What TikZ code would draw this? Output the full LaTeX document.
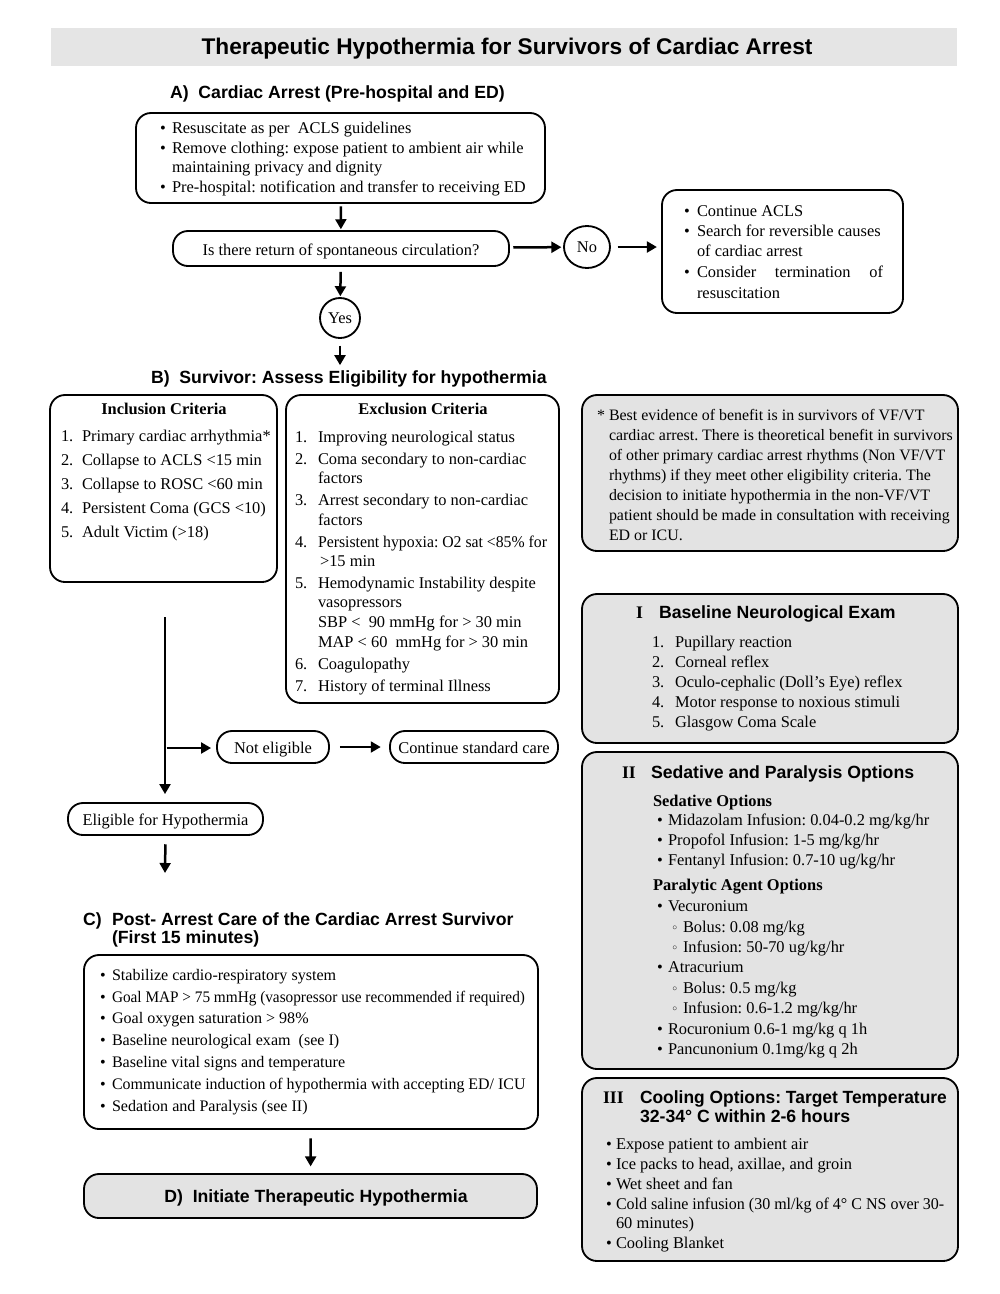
\documentclass[tikz,border=0pt]{standalone}
\usepackage{fontspec}
\setmainfont{Liberation Serif}
\setsansfont{Liberation Sans}
\newfontfamily\symf{DejaVu Sans}
\usetikzlibrary{arrows.meta,fit,shapes.geometric}
\frenchspacing
\newcommand\bodyf{\fontsize{9.85}{12}\selectfont}
\newcommand\footf{\fontsize{9.55}{12}\selectfont}
\newcommand\cf{\fontsize{9.65}{12}\selectfont}
\newcommand\headf{\fontsize{10.6}{12.5}\selectfont\sffamily\bfseries}
\newcommand\titlef{\fontsize{13.6}{16}\selectfont\sffamily\bfseries}
\newcommand\sbul{{\symf\fontsize{7.5}{8}\selectfont ◦}}
\newcommand\Ix[6]{\node[txt,anchor=base west] (#1m) at (#2,#4) {#5};\node[txt,anchor=base west] (#1) at (#3,#4) {#6};}
\newcommand\Lx[4]{\node[txt,anchor=base west] (#1) at (#2,#3) {#4};}
\begin{document}
\begin{tikzpicture}[x=0.6pt,y=-0.6pt,
  box/.style={draw, line width=1.1pt, rounded corners=9pt, inner sep=0pt},
  gbox/.style={box, fill=black!11},
  txt/.style={inner sep=0pt, outer sep=0pt, font=\bodyf},
  hd/.style={inner sep=0pt, outer sep=0pt, font=\headf},
  rn/.style={inner sep=0pt, outer sep=0pt, font=\fontsize{10.6}{12}\selectfont\bfseries},
  circ/.style={draw, line width=1.1pt, inner sep=0pt, font=\bodyf},
  arr/.style={line width=1.5pt, -{Triangle[length=6pt,width=6.5pt]}},
]
\useasboundingbox (0,0) rectangle (1000,1294);
\fill[white] (0,0) rectangle (1000,1294);

% title
\node[fill=black!10, inner sep=0pt, fit={(51,28) (957,66)}] (band) {};
\node[inner sep=0pt, font=\titlef, anchor=base] (title) at (507,54) {Therapeutic Hypothermia for Survivors of Cardiac Arrest};

% A
\node[hd, anchor=base west] (hA) at (170,98) {A)\ \ Cardiac Arrest (Pre-hospital and ED)};
\node[box, fit={(136,113) (545,203)}] (boxA) {};
\Ix{a1}{160}{172}{133}{•}{Resuscitate as per\ \ ACLS guidelines}
\Ix{a2}{160}{172}{153}{•}{Remove clothing: expose patient to ambient air while}
\Lx{a2b}{172}{172}{maintaining privacy and dignity}
\Ix{a3}{160}{172}{192}{•}{Pre-hospital: notification and transfer to receiving ED}

\node[box, fit={(173,231) (509,266)}] (rosc) {};
\node[txt, anchor=base] (roscT) at (341,255) {Is there return of spontaneous circulation?};

\node[circ, ellipse, minimum width=27.6pt, minimum height=25.2pt] (no) at (587,247) {No};
\node[circ, circle, minimum size=24pt] (yes) at (340,318) {Yes};

\node[box, fit={(662,190) (903,313)}] (cont) {};
\Ix{c1}{684}{697}{216}{•}{Continue ACLS}
\Ix{c2}{684}{697}{236}{•}{Search for reversible causes}
\Lx{c2b}{697}{256}{of cardiac arrest}
\Ix{c3}{684}{697}{277}{•}{\makebox[111.6pt][s]{Consider termination of}}
\Lx{c3b}{697}{298}{resuscitation}

\draw[arr, shorten <=1.5pt, shorten >=0.5pt] (boxA) -- (rosc);
\draw[arr, shorten <=2pt, shorten >=1pt] (rosc) -- (no);
\draw[arr, shorten <=4pt, shorten >=2.5pt] (no) -- (no -| cont.west);
\draw[arr, shorten <=3pt, shorten >=0.5pt] (rosc) -- (yes);

% B
\node[hd, anchor=base west] (hB) at (151,383) {B)\ \ Survivor: Assess Eligibility for hypothermia};
\draw[arr, shorten <=4pt, shorten >=3pt] (yes) -- (yes |- hB.north);

\node[box, fit={(50,395) (277,582)}] (incl) {};
\node[txt, anchor=base, font=\bodyf\bfseries] (inclH) at (164,414) {Inclusion Criteria};
\Ix{i1}{61}{82}{441}{1.}{Primary cardiac arrhythmia*}
\Ix{i2}{61}{82}{465}{2.}{Collapse to ACLS <15 min}
\Ix{i3}{61}{82}{489}{3.}{Collapse to ROSC <60 min}
\Ix{i4}{61}{82}{513}{4.}{Persistent Coma (GCS <10)}
\Ix{i5}{61}{82}{537}{5.}{Adult Victim (>18)}

\node[box, fit={(286,395) (559,703)}] (excl) {};
\node[txt, anchor=base, font=\bodyf\bfseries] (exclH) at (423,414) {Exclusion Criteria};
\Ix{e1}{295}{318}{442}{1.}{Improving neurological status}
\Ix{e2}{295}{318}{464}{2.}{Coma secondary to non-cardiac}
\Lx{e2b}{318}{483}{factors}
\Ix{e3}{295}{318}{505}{3.}{Arrest secondary to non-cardiac}
\Lx{e3b}{318}{525}{factors}
\Ix{e4}{295}{318}{547}{4.}{\scalebox{0.96}[1]{Persistent hypoxia: O2 sat <85\% for}}
\Lx{e4b}{320}{566}{>15 min}
\Ix{e5}{295}{318}{588}{5.}{Hemodynamic Instability despite}
\Lx{e5b}{318}{607}{vasopressors}
\Lx{e5c}{318}{627}{SBP <\ \ 90 mmHg for > 30 min}
\Lx{e5d}{318}{647}{MAP < 60\ \ mmHg for > 30 min}
\Ix{e6}{295}{318}{669}{6.}{Coagulopathy}
\Ix{e7}{295}{318}{691}{7.}{History of terminal Illness}

% footnote
\node[gbox, fit={(582,395) (958,551)}] (foot) {};
\begin{scope}[txt/.append style={font=\footf}]
\Ix{f1}{597}{609}{420}{*}{Best evidence of benefit is in survivors of VF/VT}
\Lx{f2}{609}{440}{cardiac arrest. There is theoretical benefit in survivors}
\Lx{f3}{609}{460}{of other primary cardiac arrest rhythms (Non VF/VT}
\Lx{f4}{609}{480}{rhythms) if they meet other eligibility criteria. The}
\Lx{f5}{609}{500}{decision to initiate hypothermia in the non-VF/VT}
\Lx{f6}{609}{520}{patient should be made in consultation with receiving}
\Lx{f7}{609}{540}{ED or ICU.}
\end{scope}

% I
\node[gbox, fit={(582,594) (958,743)}] (bI) {};
\node[rn, anchor=base west] (bIr) at (636,618) {I};
\node[hd, anchor=base west] (bIh) at (659,618) {Baseline Neurological Exam};
\Ix{n1}{652}{675}{647}{1.}{Pupillary reaction}
\Ix{n2}{652}{675}{667}{2.}{Corneal reflex}
\Ix{n3}{652}{675}{687}{3.}{Oculo-cephalic (Doll’s Eye) reflex}
\Ix{n4}{652}{675}{707}{4.}{Motor response to noxious stimuli}
\Ix{n5}{652}{675}{727}{5.}{Glasgow Coma Scale}

% II
\node[gbox, fit={(582,752) (958,1069)}] (bII) {};
\node[rn, anchor=base west] (bIIr) at (622,778) {II};
\node[hd, anchor=base west] (bIIh) at (651,778) {Sedative and Paralysis Options};
\node[txt, anchor=base west, font=\bodyf\bfseries] (sedH) at (653,806) {Sedative Options};
\Ix{s1}{657}{668}{825}{•}{Midazolam Infusion: 0.04-0.2 mg/kg/hr}
\Ix{s2}{657}{668}{845}{•}{Propofol Infusion: 1-5 mg/kg/hr}
\Ix{s3}{657}{668}{865}{•}{Fentanyl Infusion: 0.7-10 ug/kg/hr}
\node[txt, anchor=base west, font=\bodyf\bfseries] (parH) at (653,890) {Paralytic Agent Options};
\Ix{p1}{657}{668}{911}{•}{Vecuronium}
\Ix{p1a}{671}{683}{932}{\sbul}{Bolus: 0.08 mg/kg}
\Ix{p1b}{671}{683}{952}{\sbul}{Infusion: 50-70 ug/kg/hr}
\Ix{p2}{657}{668}{972}{•}{Atracurium}
\Ix{p2a}{671}{683}{993}{\sbul}{Bolus: 0.5 mg/kg}
\Ix{p2b}{671}{683}{1013}{\sbul}{Infusion: 0.6-1.2 mg/kg/hr}
\Ix{p3}{657}{668}{1034}{•}{Rocuronium 0.6-1 mg/kg q 1h}
\Ix{p4}{657}{668}{1054}{•}{Pancunonium 0.1mg/kg q 2h}

% III
\node[gbox, fit={(582,1078) (958,1261)}] (bIII) {};
\node[rn, anchor=base west] (bIIIr) at (603,1103) {III};
\node[hd, anchor=base west] (bIIIh) at (640,1103) {\scalebox{0.985}[1]{Cooling Options: Target Temperature}};
\node[hd, anchor=base west] (bIIIh2) at (640,1122) {32-34° C within 2-6 hours};
\Ix{k1}{606}{616}{1149}{•}{Expose patient to ambient air}
\Ix{k2}{606}{616}{1169}{•}{Ice packs to head, axillae, and groin}
\Ix{k3}{606}{616}{1189}{•}{Wet sheet and fan}
\Ix{k4}{606}{616}{1209}{•}{\scalebox{0.975}[1]{Cold saline infusion (30 ml/kg of 4° C NS over 30-}}
\Lx{k4b}{616}{1228}{60 minutes)}
\Ix{k5}{606}{616}{1248}{•}{Cooling Blanket}

% eligibility flow
\coordinate (vtop) at (165,617);
\coordinate (br) at (165,748);
\node[box, fit={(217,731) (329,763)}] (notel) {};
\node[txt, anchor=base] (notelT) at (273,753) {Not eligible};
\node[box, fit={(390,731) (558,763)}] (std) {};
\node[txt, anchor=base] (stdT) at (474,753) {Continue standard care};
\node[box, fit={(68,803) (263,835)}] (elig) {};
\node[txt, anchor=base] (eligT) at (165.5,825) {Eligible for Hypothermia};
\draw[arr, shorten >=4.8pt] (vtop) -- (vtop |- elig.north);
\draw[arr, shorten <=1pt, shorten >=3pt] (br) -- (br -| notel.west);
\draw[arr, shorten <=6pt, shorten >=5pt] (notel) -- (std);

% C
\node[hd, anchor=base west] (hC) at (83,925) {C)};
\node[hd, anchor=base west] (hC1) at (112,925) {Post- Arrest Care of the Cardiac Arrest Survivor};
\node[hd, anchor=base west] (hC2) at (112,943) {(First 15 minutes)};
\coordinate (eligEnd) at (165,873);
\draw[arr, shorten <=5pt] (elig.south) -- (eligEnd);

\node[box, fit={(84,955) (538,1129)}] (boxC) {};
\begin{scope}[txt/.append style={font=\cf}]
\Ix{q1}{100}{112}{980}{•}{Stabilize cardio-respiratory system}
\Ix{q2}{100}{112}{1002}{•}{\scalebox{0.95}[1]{Goal MAP > 75 mmHg (vasopressor use recommended if required)}}
\Ix{q3}{100}{112}{1023}{•}{Goal oxygen saturation > 98\%}
\Ix{q4}{100}{112}{1045}{•}{Baseline neurological exam\ \ (see I)}
\Ix{q5}{100}{112}{1067}{•}{Baseline vital signs and temperature}
\Ix{q6}{100}{112}{1089}{•}{\scalebox{0.99}[1]{Communicate induction of hypothermia with accepting ED/ ICU}}
\Ix{q7}{100}{112}{1111}{•}{Sedation and Paralysis (see II)}
\end{scope}

\node[gbox, fit={(84,1174) (537,1218)}] (boxD) {};
\node[hd, anchor=base] (boxDT) at (316,1202) {D)\ \ Initiate Therapeutic Hypothermia};
\draw[arr, shorten <=5pt, shorten >=4pt] (boxC) -- (boxD);
\end{tikzpicture}
\end{document}
